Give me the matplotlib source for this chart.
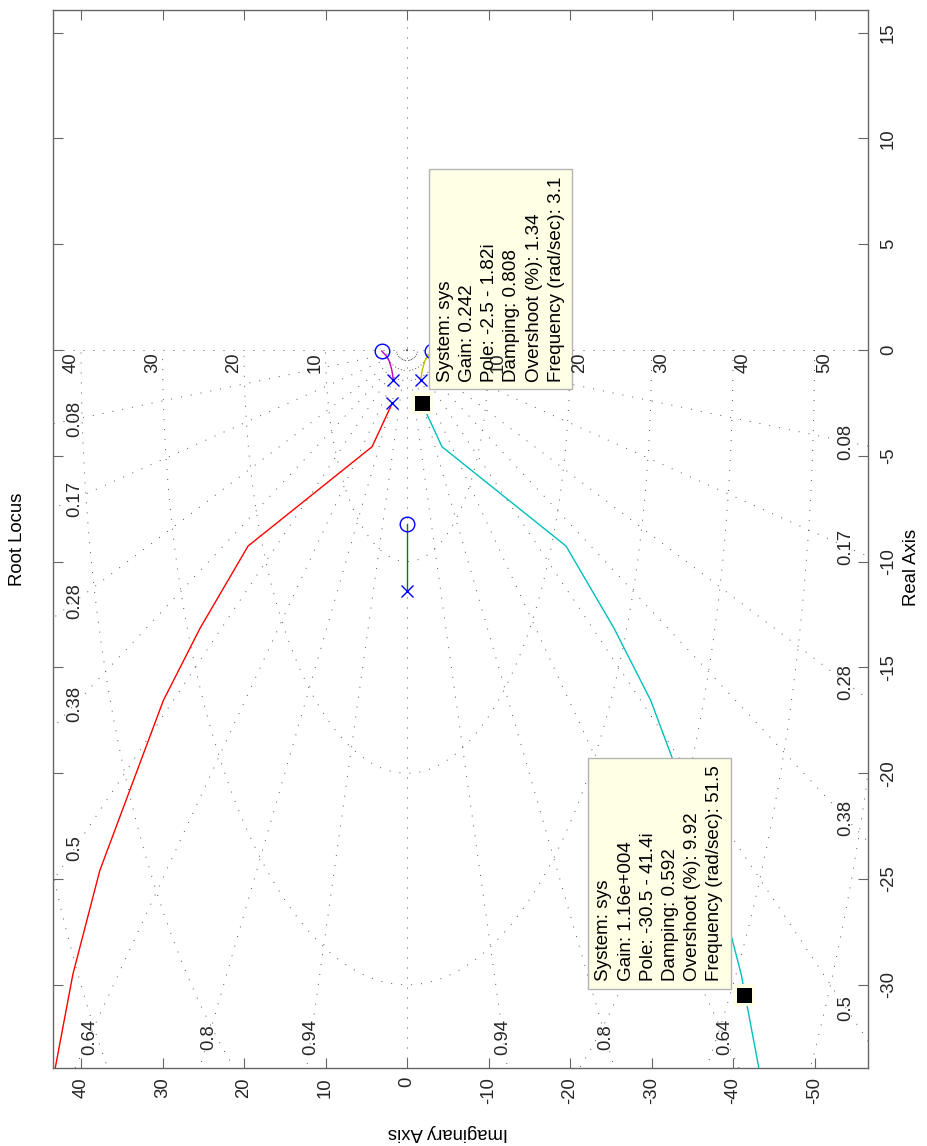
import numpy as np
import matplotlib.pyplot as plt

plt.rcParams['font.family'] = ['Liberation Sans', 'DejaVu Sans']
plt.rcParams['font.size'] = 13.3
plt.rcParams['axes.unicode_minus'] = False
plt.rcParams['lines.scale_dashes'] = False

# Polos y ceros de lazo abierto (parte real, parte imaginaria)
polos_re = [-1.40, -1.40, -2.50, -2.50, -11.40]
polos_im = [1.68, -1.68, 1.80, -1.80, 0.0]
ceros_re = [-0.05, -0.05, -8.20]
ceros_im = [3.10, -3.10, 0.0]

# Rama que va al infinito (parte imag positiva); la otra es su conjugada
rama_inf_re = [-2.50, -4.57, -9.26, -13.15, -16.56, -24.6, -29.5, -34.0, -36.5]
rama_inf_im = [1.80, 4.29, 19.5, 25.4, 29.9, 37.7, 41.0, 43.2, 44.2]

# Rama del polo -1.4+1.68i al cero en +3.1i (y su conjugada)
rama_cero_re = [-1.40, -0.92, -0.53, -0.26, -0.05]
rama_cero_im = [1.68, 1.88, 2.17, 2.58, 3.10]

# Rama sobre el eje real
rama_real_re = [-11.40, -8.20]
rama_real_im = [0.0, 0.0]

# Datatips
tips_re = [-2.5, -30.5]
tips_im = [-1.82, -41.4]
tips_txt = ["System: sys\nGain: 0.242\nPole: -2.5 - 1.82i\nDamping: 0.808\n"
            "Overshoot (%): 1.34\nFrequency (rad/sec): 3.1",
            "System: sys\nGain: 1.16e+004\nPole: -30.5 - 41.4i\nDamping: 0.592\n"
            "Overshoot (%): 9.92\nFrequency (rad/sec): 51.5"]
tips_off = [(15, 21), (-149, 14)]

# Rejilla (sgrid)
zetas = [0.08, 0.17, 0.28, 0.38, 0.5, 0.64, 0.8, 0.94]
wns = [10, 20, 30, 40, 50, 60]

real_ticks = [-30, -25, -20, -15, -10, -5, 0, 5, 10, 15]
imag_ticks = [-50, -40, -30, -20, -10, 0, 10, 20, 30, 40]

W, H = 927, 1146
def fx(px):
    return px / W
def fy(py):
    return 1 - py / H

fig = plt.figure(figsize=(W / 100, H / 100), dpi=100)
ax = fig.add_axes([fx(53), fy(1068), (868 - 53) / W, (1068 - 10) / H])
# eje x = parte imaginaria (invertido), eje y = parte real
ax.set_xlim(43.44, -56.56)
ax.set_ylim(-33.93, 16.07)

gris = '#555555'
grid_kw = dict(color=gris, lw=0.7, dashes=(0.7, 6.5), zorder=1)
ax.axhline(0, **grid_kw)
ax.axvline(0, **grid_kw)
r = np.array([0, 90.0])
for z in zetas:
    for s in (1, -1):
        ax.plot(s * r * np.sqrt(1 - z ** 2), -r * z, **grid_kw)
th = np.linspace(-np.pi / 2, np.pi / 2, 500)
for wn in wns:
    ax.plot(wn * np.sin(th), -wn * np.cos(th), **grid_kw)

# etiquetas de amortiguamiento cerca del borde
p0 = ax.transData.transform((0, 0))
bx0, bx1, by0 = ax.bbox.x0 + 22, ax.bbox.x1 - 22, ax.bbox.y0 + 31
inv = ax.transData.inverted()
for z in zetas:
    for s in (1, -1):
        d = ax.transData.transform((s * 10 * np.sqrt(1 - z ** 2), -10 * z)) - p0
        tx = ((bx0 if d[0] < 0 else bx1) - p0[0]) / d[0]
        ty = (by0 - p0[1]) / d[1]
        pt = inv.transform(p0 + min(tx, ty) * d)
        ax.text(pt[0], pt[1], f'{z:g}', rotation=90, ha='center', va='center',
                color='#262626', zorder=2)

# Lugar de las raices
ax.plot(rama_inf_im, rama_inf_re, color=(1, 0, 0), lw=1.0, zorder=3)
ax.plot(-np.array(rama_inf_im), rama_inf_re, color=(0, 0.75, 0.75), lw=1.0, zorder=3)
ax.plot(rama_cero_im, rama_cero_re, color=(0.75, 0, 0.75), lw=1.0, zorder=3)
ax.plot(-np.array(rama_cero_im), rama_cero_re, color=(0.75, 0.75, 0), lw=1.0, zorder=3)
ax.plot(rama_real_im, rama_real_re, color=(0, 0.5, 0), lw=1.0, zorder=3)
ax.plot(polos_im, polos_re, 'x', color='b', ms=8, mew=1.0, ls='none', zorder=4)
ax.plot(ceros_im, ceros_re, 'o', mfc='none', mec='b', ms=10.5, mew=1.0, ls='none', zorder=4)

# Datatips
for re_, im_, txt, off in zip(tips_re, tips_im, tips_txt, tips_off):
    ax.annotate(txt, xy=(im_, re_), xytext=off, textcoords='offset pixels',
                rotation=90, ha='left', va='bottom', multialignment='left',
                fontsize=13.6, linespacing=1.4, color='black', zorder=6,
                bbox=dict(boxstyle='square,pad=0.4', fc='#ffffe6', ec='#b4b4b4', lw=1.0))
    ax.plot(im_, re_, 's', color='#ffffe6', ms=16.5, mew=0, zorder=7)
    ax.plot(im_, re_, 's', color='black', ms=10.8, mew=0, zorder=8)

# etiquetas de frecuencia natural
xl = ax.get_xlim()
for wn in wns:
    for s in (1, -1):
        if min(xl) < s * wn < max(xl):
            ax.annotate(str(wn), xy=(s * wn, 0), xytext=(-s * 10, -13),
                        textcoords='offset pixels', rotation=90, ha='center',
                        va='center', color='#262626', zorder=9)

ax.set_xticks(imag_ticks)
ax.set_yticks(real_ticks)
for sp in ax.spines.values():
    sp.set_color('#666666')
    sp.set_linewidth(1.0)
ax.tick_params(axis='x', direction='in', length=7.5, width=0.8, color='#666666',
               top=True, bottom=True, labelrotation=90, pad=6.5, labelcolor='#262626')
ax.tick_params(axis='y', direction='in', length=7.5, width=0.8, color='#666666',
               left=True, right=True, labelleft=False, labelright=True,
               labelrotation=90, pad=8.5, labelcolor='#262626')
for t in ax.yaxis.get_major_ticks():
    t.label2.set_va('center')

fig.text(fx(18), fy(539), 'Root Locus', rotation=90, ha='center', va='center')
fig.text(fx(912), fy(567), 'Real Axis', rotation=90, ha='center', va='center')
fig.text(fx(447.5), fy(1133), 'Imaginary Axis', rotation=180, ha='center', va='center')

fig.savefig('out.png', dpi=100)
